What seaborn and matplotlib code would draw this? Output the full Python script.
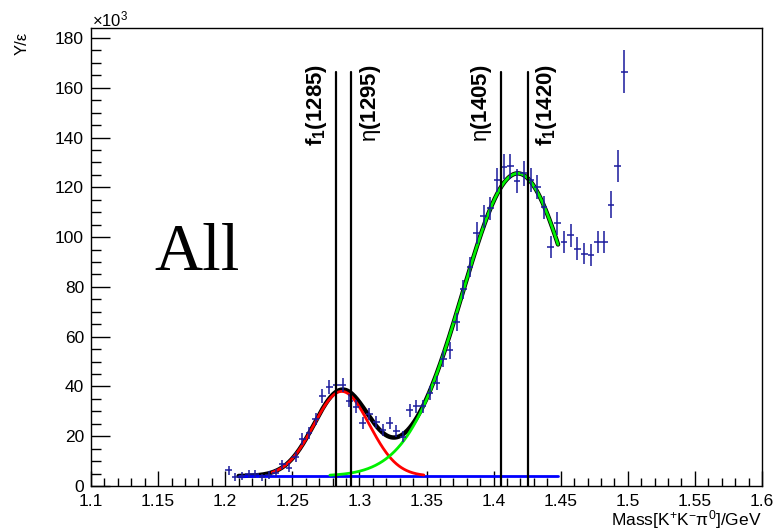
import numpy as np
import pandas as pd
import matplotlib
matplotlib.use("Agg")
import matplotlib.pyplot as plt
from matplotlib.ticker import MultipleLocator
import seaborn as sns

# ---------------- data (values in units of 10^3) ----------------
bin_centers = [1.2025, 1.2075, 1.2125, 1.2175, 1.2225, 1.2275, 1.2325, 1.2375, 1.2425, 1.2475,
               1.2525, 1.2575, 1.2625, 1.2675, 1.2725, 1.2775, 1.2825, 1.2875, 1.2925, 1.2975,
               1.3025, 1.3075, 1.3125, 1.3175, 1.3225, 1.3275, 1.3325, 1.3375, 1.3425, 1.3475,
               1.3525, 1.3575, 1.3625, 1.3675, 1.3725, 1.3775, 1.3825, 1.3875, 1.3925, 1.3975,
               1.4025, 1.4075, 1.4125, 1.4175, 1.4225, 1.4275, 1.4325, 1.4375, 1.4425, 1.4475,
               1.4525, 1.4575, 1.4625, 1.4675, 1.4725, 1.4775, 1.4825, 1.4875, 1.4925, 1.4975]
counts = [6.4, 3.6, 4.0, 5.0, 4.8, 3.5, 4.3, 5.2, 8.7, 7.4,
          11.6, 18.9, 21.3, 26.9, 36.1, 39.9, 40.6, 40.4, 34.3, 31.9,
          25.4, 28.9, 25.8, 22.5, 25.4, 22.1, 19.8, 30.5, 32.0, 32.0,
          37.2, 41.3, 51.0, 54.5, 66.0, 79.0, 88.0, 101.5, 108.4, 111.5,
          123.0, 128.3, 128.5, 122.5, 125.6, 123.0, 120.0, 112.0, 96.0, 105.5,
          98.0, 100.8, 95.4, 93.4, 92.8, 98.0, 98.0, 113.0, 128.5, 166.5]
count_errors = [1.8, 1.5, 1.5, 1.6, 1.6, 1.5, 1.6, 1.7, 1.9, 1.8,
                2.0, 2.3, 2.4, 2.5, 2.7, 2.8, 2.8, 2.8, 2.6, 2.6,
                2.4, 2.5, 2.4, 2.3, 2.4, 2.3, 2.2, 2.6, 2.6, 2.6,
                2.8, 2.9, 3.2, 3.3, 3.6, 3.9, 4.1, 4.4, 4.6, 4.6,
                4.8, 5.0, 5.0, 4.9, 4.9, 4.9, 4.8, 4.7, 4.4, 4.6,
                4.5, 4.6, 4.5, 4.4, 4.4, 4.5, 4.5, 5.4, 6.4, 8.7]
bin_half_width = 0.0025

# fit components (parameters)
bkg_level = 4.0
bkg_range = (1.21, 1.448)
f1285_amp, f1285_mean, f1285_sigma, f1285_range = 34.0, 1.2868, 0.0207, (1.235, 1.348)
e1405_amp, e1405_mean, e1405_sigma, e1405_range = 121.6, 1.418, 0.0410, (1.278, 1.448)

# resonance markers
res_labels = [r"$\mathbf{f_1}$(1285)", r"$\mathrm{η}$(1295)", r"$\mathrm{η}$(1405)", r"$\mathbf{f_1}$(1420)"]
res_masses = [1.2826, 1.2937, 1.4055, 1.4253]
res_side = ["left", "right", "left", "right"]
line_top = 166.3

x_ticks = [1.1, 1.15, 1.2, 1.25, 1.3, 1.35, 1.4, 1.45, 1.5, 1.55, 1.6]
x_tick_labels = ["1.1", "1.15", "1.2", "1.25", "1.3", "1.35", "1.4", "1.45", "1.5", "1.55", "1.6"]
y_ticks = [0, 20, 40, 60, 80, 100, 120, 140, 160, 180]

# ---------------- style ----------------
sns.set_theme(style="ticks")
plt.rcParams["font.family"] = ["Liberation Sans", "DejaVu Sans"]
plt.rcParams["mathtext.fontset"] = "custom"
plt.rcParams["mathtext.rm"] = "Liberation Sans"
plt.rcParams["mathtext.it"] = "Liberation Sans:italic"
plt.rcParams["mathtext.bf"] = "Liberation Sans:bold"
for k in ["text.color", "axes.labelcolor", "xtick.color", "ytick.color", "axes.edgecolor"]:
    plt.rcParams[k] = "black"

fig = plt.figure(figsize=(7.77, 5.31), dpi=100)
ax = fig.add_axes([91 / 777, 45 / 531, (762 - 91) / 777, (486 - 28) / 531])

def gauss(x, a, m, s):
    return a * np.exp(-0.5 * ((x - m) / s) ** 2)

xb = np.linspace(bkg_range[0], bkg_range[1], 400)
xr = np.linspace(f1285_range[0], f1285_range[1], 300)
xg = np.linspace(e1405_range[0], e1405_range[1], 300)

total_df = pd.DataFrame({"x": xb, "y": bkg_level + gauss(xb, f1285_amp, f1285_mean, f1285_sigma)
                         + gauss(xb, e1405_amp, e1405_mean, e1405_sigma)})
bkg_df = pd.DataFrame({"x": xb, "y": np.full_like(xb, bkg_level)})
red_df = pd.DataFrame({"x": xr, "y": bkg_level + gauss(xr, f1285_amp, f1285_mean, f1285_sigma)})
green_df = pd.DataFrame({"x": xg, "y": bkg_level + gauss(xg, e1405_amp, e1405_mean, e1405_sigma)})

sns.lineplot(data=total_df, x="x", y="y", color="black", linewidth=3.2, ax=ax, zorder=3)
sns.lineplot(data=bkg_df, x="x", y="y", color="#0000ff", linewidth=2.0, ax=ax, zorder=4)
sns.lineplot(data=red_df, x="x", y="y", color="#ff0000", linewidth=2.0, ax=ax, zorder=4)
sns.lineplot(data=green_df, x="x", y="y", color="#00f000", linewidth=2.0, ax=ax, zorder=4)

ax.errorbar(bin_centers, counts, yerr=count_errors, xerr=bin_half_width, fmt="none",
            ecolor="#1a1a9c", elinewidth=1.1, capsize=0, zorder=5)

for lab, m, side in zip(res_labels, res_masses, res_side):
    ax.plot([m, m], [0, line_top], color="black", linewidth=1.6, zorder=6)
    if side == "left":
        ax.annotate(lab, xy=(m, 169.5), xytext=(-5, 0), textcoords="offset points",
                    rotation=90, ha="right", va="top", fontsize=16, fontweight="bold")
    else:
        ax.annotate(lab, xy=(m, 169.5), xytext=(5, 0), textcoords="offset points",
                    rotation=90, ha="left", va="top", fontsize=16, fontweight="bold")

ax.text(1.147, 93.5, "All", fontsize=48, family=["Liberation Serif", "DejaVu Serif"],
        ha="left", va="center", color="black")

ax.set_xlim(1.1, 1.6)
ax.set_ylim(0, 184)
ax.set_xticks(x_ticks)
ax.set_xticklabels(x_tick_labels)
ax.set_yticks(y_ticks)
ax.xaxis.set_minor_locator(MultipleLocator(0.01))
ax.yaxis.set_minor_locator(MultipleLocator(5))
ax.tick_params(axis="x", which="major", direction="in", length=11, width=1, labelsize=12.5, pad=6)
ax.tick_params(axis="x", which="minor", direction="in", length=5.5, width=1)
ax.tick_params(axis="y", which="major", direction="in", length=14, width=1, labelsize=12.5, pad=5)
ax.tick_params(axis="y", which="minor", direction="in", length=7, width=1)
for sp in ax.spines.values():
    sp.set_linewidth(1.0)
    sp.set_color("black")
ax.set_xlabel("")
ax.set_ylabel("")

fig.text(762 / 777, 1 - 520 / 531, r"Mass[K$^{+}$K$^{-}$π$^{0}$]/GeV", ha="right", va="center", fontsize=12.5)
fig.text(22 / 777, 1 - 43 / 531, "Y/ε", rotation=90, ha="center", va="center", fontsize=12)
fig.text(92 / 777, 1 - 19 / 531, r"×10$^{3}$", ha="left", va="center", fontsize=12)

fig.savefig("out.png", dpi=100, facecolor="white")
